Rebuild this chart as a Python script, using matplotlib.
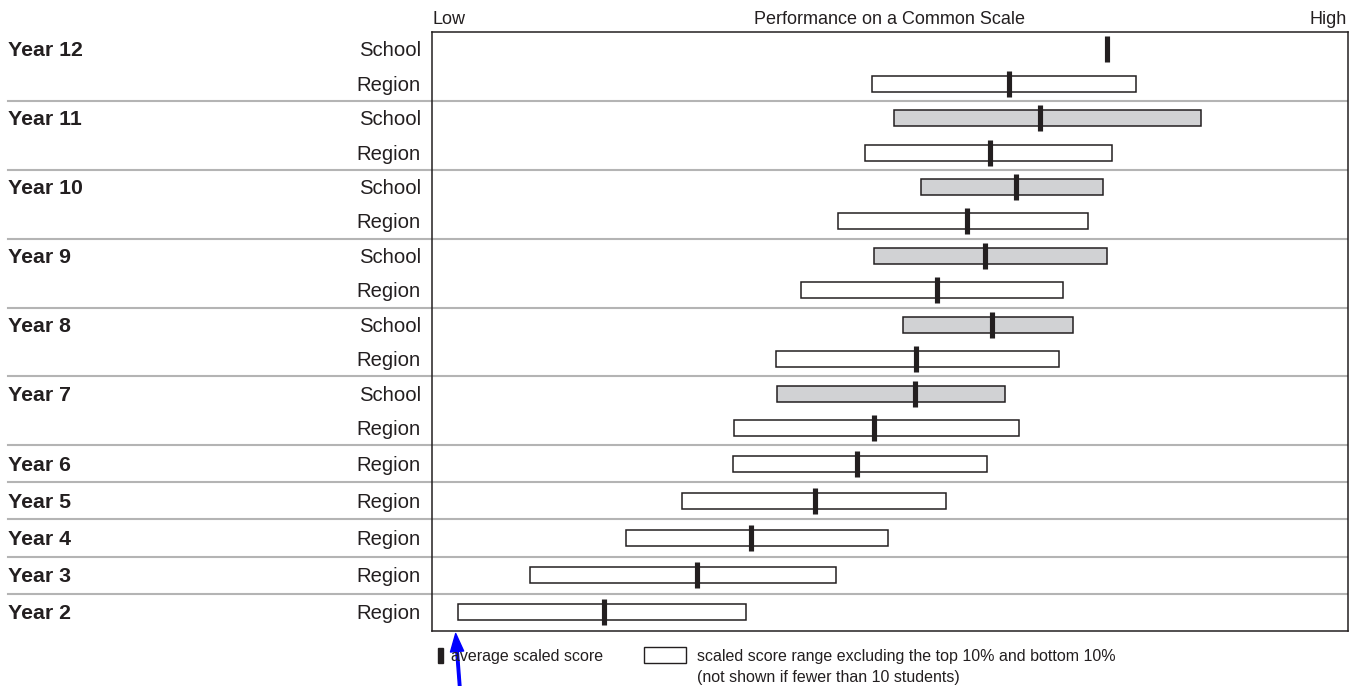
import numpy as np
import matplotlib.pyplot as plt
from matplotlib.transforms import blended_transform_factory

plt.rcParams['font.family'] = ['Liberation Sans', 'DejaVu Sans']

# ── data (common scale, 0 = Low edge, 100 = High edge) ──────────────────────
row_year = ["Year 12", "Year 12", "Year 11", "Year 11", "Year 10", "Year 10",
            "Year 9", "Year 9", "Year 8", "Year 8", "Year 7", "Year 7",
            "Year 6", "Year 5", "Year 4", "Year 3", "Year 2"]
row_kind = ["School", "Region", "School", "Region", "School", "Region",
            "School", "Region", "School", "Region", "School", "Region",
            "Region", "Region", "Region", "Region", "Region"]
range_low = [np.nan, 48.0, 50.4, 47.3, 53.4, 44.3, 48.3, 40.3, 51.4, 37.6,
             37.7, 33.0, 32.9, 27.3, 21.2, 10.7, 2.8]
range_high = [np.nan, 76.9, 84.0, 74.2, 73.3, 71.6, 73.7, 68.9, 70.0, 68.4,
              62.6, 64.1, 60.6, 56.1, 49.8, 44.1, 34.3]
avg_score = [73.7, 63.0, 66.4, 60.9, 63.8, 58.4, 60.4, 55.1, 61.1, 52.8,
             52.7, 48.3, 46.4, 41.8, 34.8, 28.9, 18.8]

DARK = "#231f20"
GREY_FILL = "#d1d2d4"
SEP = "#b4b4b4"

W, H = 1360, 686
fig = plt.figure(figsize=(W / 100, H / 100), dpi=100)
# axes box in pixel coordinates: left 432, right 1348, top 32, bottom 631
ax = fig.add_axes([432 / W, 1 - 631 / H, (1348 - 432) / W, (631 - 32) / H])
ax.set_xlim(0, 100)
ax.set_ylim(599, 0)          # y in pixels from the top of the plot box
ax.set_xticks([])
ax.set_yticks([])
for s in ax.spines.values():
    s.set_color(DARK)
    s.set_linewidth(1.1)

# row layout: pair groups are taller than single-row groups
years = list(dict.fromkeys(row_year))
pair_h, single_h = 68.9, 37.04
centers, bounds, group_first = [], [], {}
top = 0.0
for yr in years:
    n = row_year.count(yr)
    gh = pair_h if n == 2 else single_h
    for k in range(n):
        centers.append(top + (k + 0.5) * gh / n)
    group_first[yr] = top + 0.5 * gh / n
    top += gh
    bounds.append(top)
centers = np.array(centers)

# separator lines running across labels and plot
tr = blended_transform_factory(fig.transFigure, ax.transData)
for b in bounds[:-1]:
    ax.plot([8 / W, 1347 / W], [b, b], color=SEP, lw=1.5, transform=tr,
            clip_on=False, zorder=1)

# range boxes
low = np.array(range_low)
high = np.array(range_high)
ok = ~np.isnan(low)
fills = [GREY_FILL if k == "School" else "white" for k in row_kind]
ax.barh(centers[ok], (high - low)[ok], left=low[ok], height=16,
        color=np.array(fills)[ok], edgecolor=DARK, linewidth=1.1, zorder=2)

# average markers
ax.vlines(avg_score, centers - 13, centers + 13, color=DARK, lw=3.7,
          capstyle='butt', zorder=3)

# row labels
for yr in years:
    ax.text(8 / W, group_first[yr] + 7, yr, transform=tr, fontsize=15.3,
            fontweight='bold', color=DARK, ha='left', va='baseline')
for c, k in zip(centers, row_kind):
    ax.text(421 / W, c + 7, k, transform=tr, fontsize=14.6, color=DARK,
            ha='right', va='baseline')

# scale header
fig.text(432 / W, 1 - 23.5 / H, "Low", fontsize=13, color=DARK, va='baseline')
fig.text(890 / W, 1 - 23.5 / H, "Performance on a Common Scale", fontsize=13,
         color=DARK, ha='center', va='baseline')
fig.text(1347 / W, 1 - 23.5 / H, "High", fontsize=13, color=DARK,
         ha='right', va='baseline')

# legend
fig.add_artist(plt.Rectangle((437.5 / W, 1 - 663 / H), 5 / W, 15 / H,
                             color=DARK, transform=fig.transFigure))
fig.text(451 / W, 1 - 661 / H, "average scaled score", fontsize=11.5,
         color=DARK, va='baseline')
fig.add_artist(plt.Rectangle((644 / W, 1 - 663 / H), 42 / W, 16 / H,
                             facecolor='white', edgecolor=DARK, lw=1.0,
                             transform=fig.transFigure))
fig.text(697 / W, 1 - 661 / H,
         "scaled score range excluding the top 10% and bottom 10%",
         fontsize=11.5, color=DARK, va='baseline')
fig.text(697 / W, 1 - 682 / H, "(not shown if fewer than 10 students)",
         fontsize=11.5, color=DARK, va='baseline')

# blue pointer arrow
fig.add_artist(plt.Annotation(
    "", xy=(455.7 / W, 1 - 633.5 / H), xytext=(460 / W, 1 - 690 / H),
    xycoords='figure fraction', textcoords='figure fraction',
    arrowprops=dict(width=1.8, headwidth=9.5, headlength=13, color='#0000ff',
                    shrink=0)))

fig.savefig("out.png", dpi=100)
